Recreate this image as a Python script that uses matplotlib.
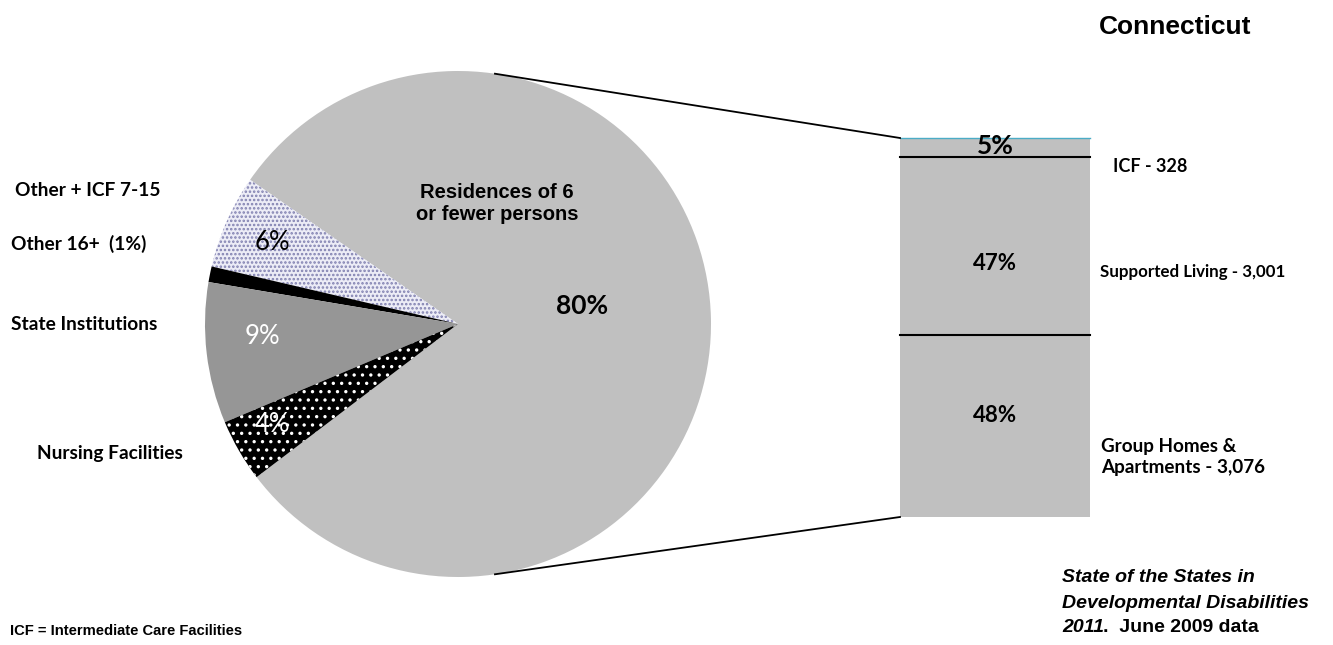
import numpy as np
import matplotlib
matplotlib.use("Agg")
import matplotlib.pyplot as plt

plt.rcParams["hatch.linewidth"] = 1.2

# pie: residential setting shares (%)
pie_labels = ["Residences of 6\nor fewer persons", "Other + ICF 7-15", "Other 16+  (1%)",
              "State Institutions", "Nursing Facilities"]
pie_values = [80, 6, 1, 9, 4]
pie_texts = ["80%", "6%", "", "9%", "4%"]

# breakdown of the 80% slice
bar_labels = ["Group Homes &\nApartments - 3,076", "Supported Living - 3,001", "ICF - 328"]
bar_counts = [3076, 3001, 328]
bar_pct = ["48%", "47%", "5%"]

W, H = 1333, 645
fig = plt.figure(figsize=(W / 100, H / 100), dpi=100)
ax = fig.add_axes([0, 0, 1, 1])

cx, cy, r = 458, 321, 253
start = 1.25 - 0.5 * pie_values[0] * 3.6
face = ["#c0c0c0", "#ececf6", "black", "#969696", "black"]
hatches = [None, "....", None, None, ".."]
hcol = ["#c0c0c0", "#8080b0", "black", "#969696", "white"]
wedges, _ = ax.pie(pie_values, center=(cx, cy), radius=r, startangle=start,
                   counterclock=True, colors=face, frame=True,
                   wedgeprops=dict(linewidth=0))
for w, h, ec in zip(wedges, hatches, hcol):
    w.set_edgecolor(ec)
    if h:
        w.set_hatch(h)
ax.set_xlim(0, W)
ax.set_ylim(0, H)
ax.set_aspect("equal")
ax.axis("off")

CAL = ["Lato", "DejaVu Sans"]
ARI = "Liberation Sans"

# slice labels
ax.text(497, 441, pie_labels[0], ha="center", va="center", fontsize=14.5,
        fontweight="bold", family=ARI, linespacing=1.2)
ax.text(582, 339, pie_texts[0], ha="center", va="center", fontsize=19,
        fontweight="bold", family=CAL)
ax.text(272, 403, pie_texts[1], ha="center", va="center", fontsize=18.5, family=CAL,
        color="black")
ax.text(262, 308, pie_texts[3], ha="center", va="center", fontsize=18.5, family=CAL,
        color="white")
ax.text(272, 221, pie_texts[4], ha="center", va="center", fontsize=18.5, family=CAL,
        color="white")

# left side labels
left_pos = [None, (15, 455), (11, 401), (11, 321), (37, 192)]
for lab, pos in zip(pie_labels, left_pos):
    if pos is None:
        continue
    ax.text(pos[0], pos[1], lab, ha="left", va="center", fontsize=13.8,
            fontweight="bold", family=CAL)

# stacked bar of the 80% slice
bx, bw = 900, 190
btop, bbot = H - 138, H - 517
scale = (btop - bbot) / sum(bar_counts)
heights = [c * scale for c in bar_counts]
bottoms = np.concatenate([[bbot], bbot + np.cumsum(heights)[:-1]])
ax.bar([bx + bw / 2] * 3, heights, width=bw, bottom=bottoms, color="#c0c0c0",
       linewidth=0)
for b in bottoms[1:]:
    ax.plot([bx, bx + bw], [b, b], color="black", lw=1.5)
ax.plot([bx, bx + bw], [btop, btop], color="#4bacc6", lw=1)

ax.text(bx + bw / 2, H - 416, bar_pct[0], ha="center", va="center", fontsize=16,
        fontweight="bold", family=CAL)
ax.text(bx + bw / 2, H - 263, bar_pct[1], ha="center", va="center", fontsize=16,
        fontweight="bold", family=CAL)
ax.text(bx + bw / 2, bottoms[2] + heights[2] / 2 + 2, bar_pct[2], ha="center",
        va="center", fontsize=19, fontweight="bold", family=CAL, zorder=5)
ax.text(1113, H - 166, bar_labels[2], ha="left", va="center", fontsize=13,
        fontweight="bold", family=CAL)
ax.text(1100, H - 272, bar_labels[1], ha="left", va="center", fontsize=12.2,
        fontweight="bold", family=CAL)
ax.text(1101, H - 457, bar_labels[0], ha="left", va="center", fontsize=13.6,
        fontweight="bold", family=CAL, linespacing=1.35)

# connector lines from pie to bar
ang = np.deg2rad(81.6)
ax.plot([cx + r * np.cos(ang), bx], [cy + r * np.sin(ang), btop], color="black", lw=1.3)
ax.plot([cx + r * np.cos(ang), bx], [cy - r * np.sin(ang), bbot], color="black", lw=1.3)

# titles and notes
ax.text(1175, H - 27, "Connecticut", ha="center", va="center", fontsize=19,
        fontweight="bold", family=ARI)
ax.text(10, H - 631, "ICF = Intermediate Care Facilities", ha="left", va="center",
        fontsize=10.6, fontweight="bold", family=ARI)
ax.text(1062, H - 578, "State of the States in", ha="left", va="center",
        fontsize=14, fontweight="bold", style="italic", family=ARI)
ax.text(1062, H - 603, "Developmental Disabilities", ha="left", va="center",
        fontsize=14, fontweight="bold", style="italic", family=ARI)
t = ax.text(1062, H - 628, "2011", ha="left", va="center", fontsize=14,
            fontweight="bold", style="italic", family=ARI)
ax.text(1103, H - 628, ".  June 2009 data", ha="left", va="center", fontsize=14,
        fontweight="bold", family=ARI)

fig.savefig("out.png", dpi=100)
